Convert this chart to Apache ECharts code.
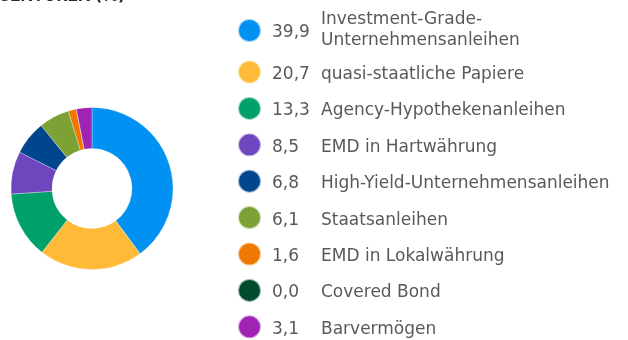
<!DOCTYPE html>
<html>
<head>
<meta charset="utf-8">
<script src="https://cdn.jsdelivr.net/npm/echarts@6/dist/echarts.min.js"></script>
<style>
  html, body { margin: 0; padding: 0; background: #fff; }
  #chart { width: 628px; height: 340px; }
</style>
</head>
<body>
<div id="chart"></div>
<script>
// Sector allocation of the portfolio (%)
const sectors = [
  'Investment-Grade-Unternehmensanleihen',
  'quasi-staatliche Papiere',
  'Agency-Hypothekenanleihen',
  'EMD in Hartwährung',
  'High-Yield-Unternehmensanleihen',
  'Staatsanleihen',
  'EMD in Lokalwährung',
  'Covered Bond',
  'Barvermögen'
];
const weights = [39.9, 20.7, 13.3, 8.5, 6.8, 6.1, 1.6, 0.0, 3.1];
const colors = ['#0091F2', '#FFBA38', '#00A06A', '#6E46BE', '#00468C', '#7CA236', '#F07800', '#004B2D', '#A024B4'];
const title = 'SEKTOREN (%)';

const fmt = v => v.toFixed(1).replace('.', ',');
const valueOf = {};
sectors.forEach((s, i) => { valueOf[s] = weights[i]; });

const FONT = '"DejaVu Sans"';
const SIZE = 17;
const TEXT = '#58595B';
const rich = {
  v: { fontFamily: FONT, fontSize: SIZE, color: TEXT, width: 49, padding: [5, 0, 0, 6], lineHeight: 18 },
  n: { fontFamily: FONT, fontSize: SIZE, color: TEXT, padding: [5, 0, 0, 0], lineHeight: 18 }
};

const first = sectors[0];
const rest = sectors.slice(1);

const chart = echarts.init(document.getElementById('chart'), null, { renderer: 'canvas' });
chart.setOption({
  animation: false,
  color: colors,
  title: {
    text: title,
    left: -1,
    top: -13,
    padding: 0,
    textStyle: { fontFamily: 'Inter', fontSize: 17, fontWeight: 'bold', color: '#2a2a2a' }
  },
  legend: [
    {
      // first entry: marker and value
      data: [first],
      orient: 'vertical', left: 237, top: 18, padding: 0,
      icon: 'circle', itemWidth: 23, itemHeight: 23,
      selectedMode: false,
      formatter: name => '{v|' + fmt(valueOf[name]) + '}',
      textStyle: { rich }
    },
    {
      // first entry: name over two lines
      data: [first],
      orient: 'vertical', left: 315, top: 11, padding: 0,
      icon: 'circle', itemWidth: 0, itemHeight: 0,
      selectedMode: false,
      formatter: () => '{n|Investment-Grade-}\n{n|Unternehmensanleihen}',
      textStyle: { rich: { n: { fontFamily: FONT, fontSize: SIZE, color: TEXT, lineHeight: 21 } } }
    },
    {
      data: rest,
      orient: 'vertical', left: 237, top: 59.5, padding: 0, height: 300,
      icon: 'circle', itemWidth: 23, itemHeight: 23, itemGap: 11.4,
      selectedMode: false,
      formatter: name => '{v|' + fmt(valueOf[name]) + '}{n|' + name + '}',
      textStyle: { rich }
    }
  ],
  series: [{
    type: 'pie',
    center: [92, 188.5],
    radius: [40, 81],
    startAngle: 90,
    clockwise: true,
    label: { show: false },
    labelLine: { show: false },
    emphasis: { disabled: true },
    itemStyle: { borderColor: 'rgba(255,255,255,0.6)', borderWidth: 0.5 },
    data: sectors.map((s, i) => ({ name: s, value: weights[i] }))
  }]
});
</script>
</body>
</html>
